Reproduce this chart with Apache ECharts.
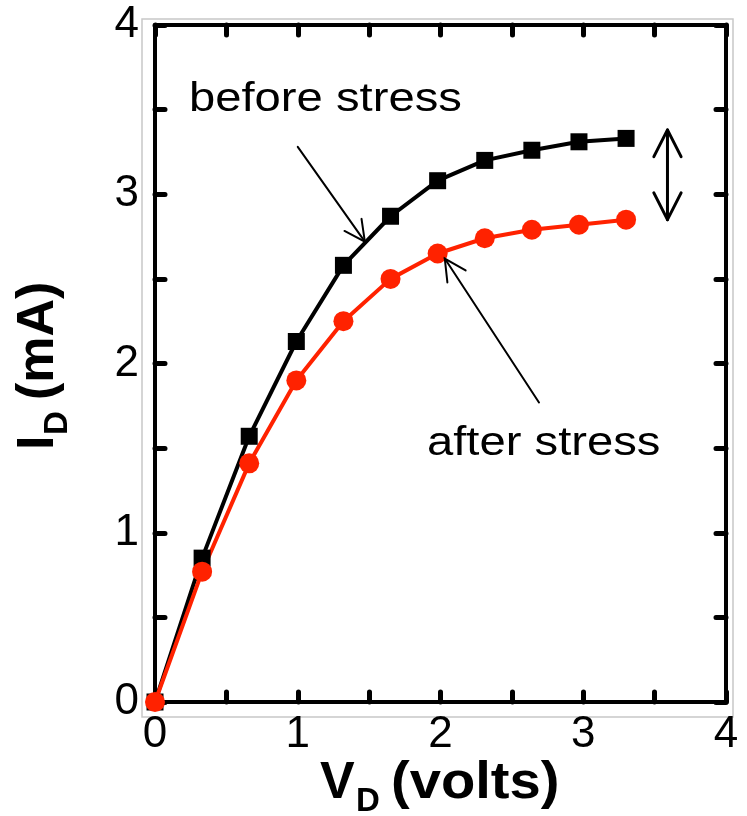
<!DOCTYPE html>
<html>
<head>
<meta charset="utf-8">
<script src="https://cdn.jsdelivr.net/npm/echarts@6/dist/echarts.min.js"></script>
<style>html,body{margin:0;padding:0;background:#fff;}#c{width:747px;height:816px;}</style>
</head>
<body>
<div id="c"></div>
<script>
// ---- data ----
const vd = [0, 0.33, 0.66, 0.99, 1.32, 1.65, 1.98, 2.31, 2.64, 2.97, 3.30];
const idBefore = [0, 0.85, 1.57, 2.13, 2.58, 2.87, 3.08, 3.20, 3.26, 3.31, 3.33];
const idAfter = [0, 0.77, 1.41, 1.90, 2.25, 2.50, 2.65, 2.74, 2.79, 2.82, 2.85];
const xTickLabels = [0, 1, 2, 3, 4];
const yTickLabels = [0, 1, 2, 3, 4];
const seriesNames = ['before stress', 'after stress'];
// annotation anchors in data coordinates [V, mA]
const beforeArrow = {start: [1.00, 3.28], tip: [1.47, 2.72]};
const afterArrow = {start: [2.69, 1.77], tip: [2.03, 2.62]};
const gapArrow = {x: 3.59, top: 3.38, bottom: 2.85};

const FONT = "'Liberation Sans', Arial, Helvetica, sans-serif";
const chart = echarts.init(document.getElementById('c'), null, {renderer: 'canvas'});

function axisCommon(isX, showLabels, labels) {
  return {
    type: 'value', min: 0, max: 4, interval: 0.5,
    axisLine: {show: true, onZero: false, lineStyle: {color: '#000', width: 4}},
    axisTick: {show: true, inside: true, length: 10, lineStyle: {color: '#000', width: 5, cap: 'round'}},
    splitLine: {show: false},
    axisLabel: {
      show: showLabels, color: '#000', fontFamily: FONT, fontSize: 44,
      margin: isX ? 11 : 16,
      formatter: v => labels.includes(Math.round(v * 100) / 100) ? String(v) : ''
    }
  };
}

chart.setOption({
  animation: false,
  backgroundColor: '#fff',
  grid: {left: 155, right: 21, top: 25, bottom: 114, containLabel: false},
  xAxis: [
    Object.assign(axisCommon(true, true, xTickLabels), {position: 'bottom'}),
    Object.assign(axisCommon(true, false, xTickLabels), {position: 'top'})
  ],
  yAxis: [
    Object.assign(axisCommon(false, true, yTickLabels), {position: 'left'}),
    Object.assign(axisCommon(false, false, yTickLabels), {position: 'right'})
  ],
  series: [
    {
      name: seriesNames[0], type: 'line', xAxisIndex: 0, yAxisIndex: 0,
      data: vd.map((x, i) => [x, idBefore[i]]),
      symbol: 'rect', symbolSize: 17,
      lineStyle: {color: '#000', width: 4},
      itemStyle: {color: '#000'}
    },
    {
      name: seriesNames[1], type: 'line', xAxisIndex: 0, yAxisIndex: 0,
      data: vd.map((x, i) => [x, idAfter[i]]),
      symbol: 'circle', symbolSize: 20,
      lineStyle: {color: '#ff2200', width: 4},
      itemStyle: {color: '#ff2200'}
    }
  ]
});

function px(p) { return chart.convertToPixel({gridIndex: 0}, p); }
function arrowGraphics(startD, tipD, len, half, width) {
  const s = px(startD), t = px(tipD);
  const ang = Math.atan2(s[1] - t[1], s[0] - t[0]);
  const a1 = ang + half, a2 = ang - half;
  const st = {stroke: '#000', lineWidth: width, lineCap: 'round'};
  return [
    {type: 'line', shape: {x1: s[0], y1: s[1], x2: t[0], y2: t[1]}, style: st, z: 100},
    {type: 'polyline', shape: {points: [
      [t[0] + len * Math.cos(a1), t[1] + len * Math.sin(a1)], t,
      [t[0] + len * Math.cos(a2), t[1] + len * Math.sin(a2)]]}, style: Object.assign({fill: null}, st), z: 100}
  ];
}

const gTop = px([gapArrow.x, gapArrow.top]);
const gBot = px([gapArrow.x, gapArrow.bottom]);
const gl = 30, gh = 27 * Math.PI / 180;
const gst = {stroke: '#000', lineWidth: 3, lineCap: 'round', lineJoin: 'round', fill: null};

const graphics = [
  {type: 'rect', shape: {x: 142, y: 19, width: 591, height: 698}, style: {fill: null, stroke: '#c8c8c8', lineWidth: 1.5}, z: -10, silent: true},
  ...arrowGraphics(beforeArrow.start, beforeArrow.tip, 23, 27 * Math.PI / 180, 2),
  ...arrowGraphics(afterArrow.start, afterArrow.tip, 24, 27 * Math.PI / 180, 2),
  {type: 'line', shape: {x1: gTop[0], y1: gTop[1], x2: gBot[0], y2: gBot[1]}, style: gst, z: 100},
  {type: 'polyline', shape: {points: [[gTop[0] - gl * Math.sin(gh), gTop[1] + gl * Math.cos(gh)], gTop, [gTop[0] + gl * Math.sin(gh), gTop[1] + gl * Math.cos(gh)]]}, style: gst, z: 100},
  {type: 'polyline', shape: {points: [[gBot[0] - gl * Math.sin(gh), gBot[1] - gl * Math.cos(gh)], gBot, [gBot[0] + gl * Math.sin(gh), gBot[1] - gl * Math.cos(gh)]]}, style: gst, z: 100},
  // annotation labels
  {type: 'text', x: 189, y: 100, scaleX: 1.18, style: {text: seriesNames[0], fill: '#000', font: '40px ' + FONT, textAlign: 'left', verticalAlign: 'middle'}, z: 100},
  {type: 'text', x: 427, y: 444, scaleX: 1.18, style: {text: seriesNames[1], fill: '#000', font: '40px ' + FONT, textAlign: 'left', verticalAlign: 'middle'}, z: 100},
  // x-axis title V_D (volts)
  {type: 'group', x: 0, y: 0, children: [
    {type: 'text', x: 320, y: 784, style: {text: 'V', fill: '#000', font: 'bold 52px ' + FONT, textAlign: 'left', verticalAlign: 'middle'}},
    {type: 'text', x: 356, y: 802, style: {text: 'D', fill: '#000', font: 'bold 33px ' + FONT, textAlign: 'left', verticalAlign: 'middle'}},
    {type: 'text', x: 391, y: 784, scaleX: 1.08, style: {text: '(volts)', fill: '#000', font: 'bold 52px ' + FONT, textAlign: 'left', verticalAlign: 'middle'}}
  ]},
  // y-axis title I_D (mA), rotated
  {type: 'group', x: 55, y: 447, rotation: Math.PI / 2, children: [
    {type: 'text', x: -3, y: -16, style: {text: 'I', fill: '#000', font: 'bold 52px ' + FONT, textAlign: 'left', verticalAlign: 'middle'}},
    {type: 'text', x: 12, y: 3, style: {text: 'D', fill: '#000', font: 'bold 33px ' + FONT, textAlign: 'left', verticalAlign: 'middle'}},
    {type: 'text', x: 47, y: -16, style: {text: '(mA)', fill: '#000', font: 'bold 52px ' + FONT, textAlign: 'left', verticalAlign: 'middle'}}
  ]}
];
chart.setOption({graphic: graphics});
</script>
</body>
</html>
